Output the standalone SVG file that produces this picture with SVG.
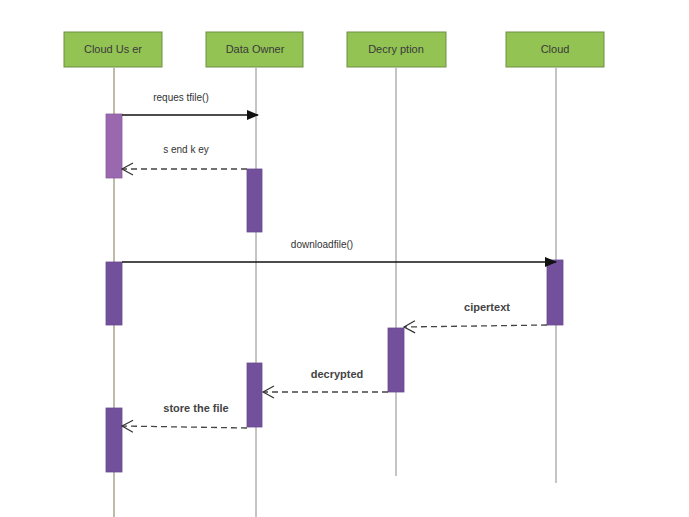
<svg xmlns="http://www.w3.org/2000/svg" width="689" height="517" viewBox="0 0 689 517">
  <defs>
    <style>
      .head { fill: #92c353; stroke: #6f8f45; stroke-width: 1; }
      .head-text { font-family: "Liberation Sans", Arial, sans-serif; font-size: 11px; fill: #3a3a3a; text-anchor: middle; }
      .life { stroke: #8a8a8a; stroke-width: 1; fill: none; }
      .life-user { stroke: #a8a48c; stroke-width: 1.5; fill: none; }
      .act { fill: #73509c; stroke: #6a4a8e; stroke-width: 0.8; }
      .act-light { fill: #9a68ae; stroke: #8a5c9e; stroke-width: 0.8; }
      .msg { stroke: #111; stroke-width: 1.3; fill: none; }
      .ret { stroke: #444; stroke-width: 1.3; fill: none; stroke-dasharray: 6 4; }
      .lbl { font-family: "Liberation Sans", Arial, sans-serif; font-size: 10px; fill: #333; text-anchor: middle; }
      .lbl-bold { font-family: "Liberation Sans", Arial, sans-serif; font-size: 11px; font-weight: bold; fill: #444; text-anchor: middle; }
    </style>
    <marker id="solid" markerWidth="12" markerHeight="10" refX="11" refY="5" orient="auto" markerUnits="userSpaceOnUse">
      <path d="M0,0 L12,5 L0,10 Z" fill="#111"/>
    </marker>
    <marker id="open" markerWidth="14" markerHeight="14" refX="12" refY="7" orient="auto" markerUnits="userSpaceOnUse">
      <path d="M1,1 L12,7 L1,13" fill="none" stroke="#333" stroke-width="1.2"/>
    </marker>
  </defs>

  <rect width="689" height="517" fill="#ffffff"/>

  <!-- lifelines -->
  <g id="lifelines">
    <line class="life-user" x1="114" y1="68" x2="114" y2="517"/>
    <line class="life" x1="256" y1="68" x2="256" y2="517"/>
    <line class="life" x1="396" y1="68" x2="396" y2="476"/>
    <line class="life" x1="556" y1="68" x2="556" y2="483"/>
  </g>

  <!-- participants -->
  <g id="cloud-user">
    <rect class="head" x="64" y="32" width="98" height="35"/>
    <text class="head-text" x="113" y="53">Cloud Us er</text>
  </g>
  <g id="data-owner">
    <rect class="head" x="206" y="32" width="97" height="35"/>
    <text class="head-text" x="255" y="53">Data Owner</text>
  </g>
  <g id="decryption">
    <rect class="head" x="347" y="32" width="99" height="35"/>
    <text class="head-text" x="396" y="53">Decry ption</text>
  </g>
  <g id="cloud">
    <rect class="head" x="506" y="32" width="98" height="35"/>
    <text class="head-text" x="555" y="53">Cloud</text>
  </g>

  <!-- activation bars -->
  <g id="activations">
    <rect class="act-light" x="106" y="114" width="16" height="64"/>
    <rect class="act" x="247" y="169" width="15" height="63"/>
    <rect class="act" x="106" y="262" width="16" height="63"/>
    <rect class="act" x="547" y="260" width="16" height="65"/>
    <rect class="act" x="388" y="328" width="16" height="64"/>
    <rect class="act" x="247" y="363" width="15" height="64"/>
    <rect class="act" x="106" y="408" width="16" height="64"/>
  </g>

  <!-- messages -->
  <g id="connectors">
    <line class="msg" x1="122" y1="115" x2="258" y2="115" marker-end="url(#solid)"/>
    <line class="ret" x1="247" y1="169" x2="122" y2="169" marker-end="url(#open)"/>
    <line class="msg" x1="122" y1="262" x2="556" y2="262" marker-end="url(#solid)"/>
    <line class="ret" x1="547" y1="325" x2="404" y2="327" marker-end="url(#open)"/>
    <line class="ret" x1="388" y1="392" x2="263" y2="392" marker-end="url(#open)"/>
    <line class="ret" x1="247" y1="428" x2="122" y2="426" marker-end="url(#open)"/>
  </g>

  <!-- message labels -->
  <g id="labels">
    <text class="lbl" x="181" y="101">reques tfile()</text>
    <text class="lbl" x="186" y="153">s end k ey</text>
    <text class="lbl" x="322" y="248">downloadfile()</text>
    <text class="lbl-bold" x="487" y="311">cipertext</text>
    <text class="lbl-bold" x="337" y="378">decrypted</text>
    <text class="lbl-bold" x="196" y="412">store the file</text>
  </g>
</svg>
